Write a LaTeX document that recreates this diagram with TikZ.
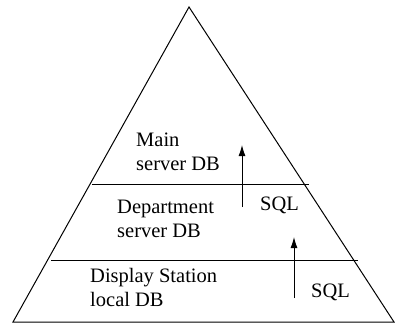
\documentclass[tikz,border=0pt]{standalone}
\usepackage{fontspec}
\setmainfont{Liberation Serif}
\usetikzlibrary{arrows.meta}
\begin{document}
\begin{tikzpicture}[x=1pt,y=-1pt,
  lbl/.style={font=\fontsize{20.5}{23.5}\selectfont, align=left, inner sep=0pt, anchor=base west},
  edge/.style={line width=1pt},
  arr/.style={line width=0.9pt,-{Latex[length=11pt,width=7pt]}}]
\useasboundingbox (0,0) rectangle (396,329);
\coordinate (A) at (189,7);
\coordinate (BL) at (13,322);
\coordinate (BR) at (394,322);
\draw[edge, line join=miter] (A) -- (BL) -- (BR) -- cycle;
\coordinate (L1a) at (92,184);
\coordinate (L1b) at (309,184);
\coordinate (L2a) at (51,260);
\coordinate (L2b) at (358,260);
\draw[line width=0.8pt] (L1a) -- (L1b);
\draw[line width=0.8pt] (L2a) -- (L2b);
\node[lbl] (main) at (136,170) {Main\\server DB};
\node[lbl] (dept) at (117,237) {Department\\server DB};
\node[lbl] (disp) at (90,306) {Display Station\\local DB};
\node[lbl] (sql1) at (260,210) {SQL};
\node[lbl] (sql2) at (311,297) {SQL};
\coordinate (a1s) at (242,207);
\coordinate (a1e) at (242,145);
\coordinate (a2s) at (294,298);
\coordinate (a2e) at (294,237);
\draw[arr] (a1s) -- (a1e);
\draw[arr] (a2s) -- (a2e);
\end{tikzpicture}
\end{document}
